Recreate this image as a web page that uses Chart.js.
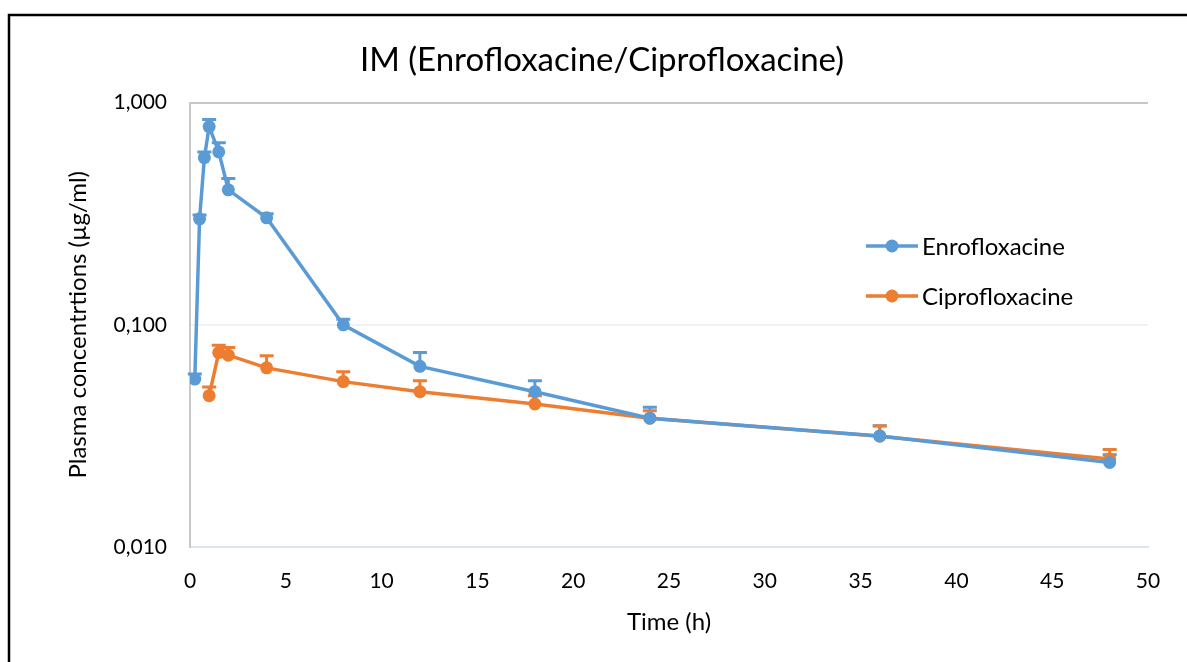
<!DOCTYPE html>
<html>
<head>
<meta charset="utf-8">
<script src="https://cdn.jsdelivr.net/npm/chart.js@4"></script>
<style>
  html, body { margin: 0; padding: 0; background: #fff; }
  #wrap { width: 1187px; height: 662px; position: relative; }
</style>
</head>
<body>
<div id="wrap"><canvas id="myChart" width="1187" height="662"></canvas></div>
<script>
// time points (h)
var enroTimes = [0.25, 0.5, 0.75, 1, 1.5, 2, 4, 8, 12, 18, 24, 36, 48];
var ciproTimes = [1, 1.5, 2, 4, 8, 12, 18, 24, 36, 48];

// mean plasma concentrations (µg/ml)
var enroMean = [0.057, 0.30, 0.565, 0.78, 0.60, 0.405, 0.303, 0.100, 0.065, 0.050, 0.038, 0.0316, 0.024];
var ciproMean = [0.048, 0.075, 0.073, 0.064, 0.0555, 0.050, 0.044, 0.038, 0.0315, 0.0249];

// upper error (SD)
var enroErr = [0.003, 0.012, 0.035, 0.06, 0.06, 0.05, 0.013, 0.006, 0.010, 0.006, 0.0045, 0.0035, 0.002];
var ciproErr = [0.0045, 0.006, 0.006, 0.0085, 0.006, 0.006, 0.004, 0.003, 0.0035, 0.0026];

var seriesNames = ["Enrofloxacine", "Ciprofloxacine"];
var seriesColors = ["#5B9BD5", "#ED7D31"];
var yTicks = [0.01, 0.1, 1];

var fontFam = "Lato, 'Open Sans', sans-serif";

function pts(times, vals) {
  return times.map(function (t, i) { return { x: t, y: vals[i] }; });
}

// upper error bars with caps
var errorBars = {
  id: "errorBars",
  beforeDatasetsDraw: function (chart) {
    var ctx = chart.ctx;
    var xs = chart.scales.x, ys = chart.scales.y;
    chart.data.datasets.forEach(function (ds) {
      ctx.save();
      ctx.strokeStyle = ds.borderColor;
      ctx.lineWidth = 3;
      ds.data.forEach(function (p, i) {
        var x = xs.getPixelForValue(p.x);
        var y0 = ys.getPixelForValue(p.y);
        var y1 = ys.getPixelForValue(p.y + ds.errors[i]);
        ctx.beginPath();
        ctx.moveTo(x, y0);
        ctx.lineTo(x, y1);
        ctx.moveTo(x - 7, y1);
        ctx.lineTo(x + 7, y1);
        ctx.stroke();
      });
      ctx.restore();
    });
  }
};

// legend inside the plot area, plus outer frame
var extras = {
  id: "extras",
  afterDraw: function (chart) {
    var ctx = chart.ctx;
    ctx.save();
    ctx.strokeStyle = "#000";
    ctx.lineWidth = 2.5;
    ctx.beginPath();
    ctx.moveTo(9, 662);
    ctx.lineTo(9, 15);
    ctx.lineTo(1187, 15);
    ctx.stroke();

    chart.data.datasets.forEach(function (ds, i) {
      var y = 246 + i * 50;
      ctx.strokeStyle = ds.borderColor;
      ctx.lineWidth = 3.5;
      ctx.beginPath();
      ctx.moveTo(866, y);
      ctx.lineTo(918, y);
      ctx.stroke();
      ctx.fillStyle = ds.borderColor;
      ctx.beginPath();
      ctx.arc(892, y, 6.5, 0, Math.PI * 2);
      ctx.fill();
      ctx.fillStyle = "#000";
      ctx.font = "24px " + fontFam;
      ctx.textAlign = "left";
      ctx.textBaseline = "middle";
      ctx.fillText(ds.label, 922, y + 1);
    });
    ctx.restore();
  }
};

new Chart("myChart", {
  type: "line",
  data: {
    datasets: [
      {
        label: seriesNames[0],
        data: pts(enroTimes, enroMean),
        errors: enroErr,
        borderColor: seriesColors[0],
        backgroundColor: seriesColors[0],
        borderWidth: 3.5,
        pointRadius: 6.5,
        pointBorderWidth: 0,
        tension: 0
      },
      {
        label: seriesNames[1],
        data: pts(ciproTimes, ciproMean),
        errors: ciproErr,
        borderColor: seriesColors[1],
        backgroundColor: seriesColors[1],
        borderWidth: 3.5,
        pointRadius: 6.5,
        pointBorderWidth: 0,
        tension: 0
      }
    ]
  },
  options: {
    responsive: false,
    animation: false,
    layout: { padding: { left: 56, right: 39, top: 0, bottom: 0 } },
    plugins: {
      legend: { display: false },
      tooltip: { enabled: false },
      title: {
        display: true,
        text: "IM (Enrofloxacine/Ciprofloxacine)",
        color: "#000",
        font: { family: fontFam, size: 33, weight: "normal" },
        padding: { top: 41, bottom: 22 }
      }
    },
    scales: {
      x: {
        type: "linear",
        min: 0,
        max: 50,
        ticks: { stepSize: 5, color: "#000", font: { family: fontFam, size: 21 }, padding: 14 },
        grid: { display: false },
        border: { color: "#DAE6F3", width: 2 },
        title: {
          display: true,
          text: "Time (h)",
          color: "#000",
          font: { family: fontFam, size: 24 },
          padding: { top: 8, bottom: 25 }
        },
        afterFit: function (s) { s.height = 115; }
      },
      y: {
        type: "logarithmic",
        min: 0.01,
        max: 1,
        afterBuildTicks: function (s) {
          s.ticks = yTicks.map(function (v) { return { value: v }; });
        },
        ticks: {
          color: "#000",
          font: { family: fontFam, size: 21 },
          padding: 23,
          callback: function (v) { return v.toFixed(3).replace(".", ","); }
        },
        grid: {
          drawTicks: false,
          lineWidth: 2,
          color: function (c) { return c.tick && c.tick.value === 1 ? "#C8C8C8" : "#EEF3FA"; }
        },
        border: { color: "#C8C8C8", width: 2 },
        title: {
          display: true,
          text: "Plasma concentrtions (µg/ml)",
          color: "#000",
          font: { family: fontFam, size: 24 },
          padding: { top: 8, bottom: 4 }
        },
        afterFit: function (s) { s.width = 134; }
      }
    }
  },
  plugins: [errorBars, extras]
});
</script>
</body>
</html>
